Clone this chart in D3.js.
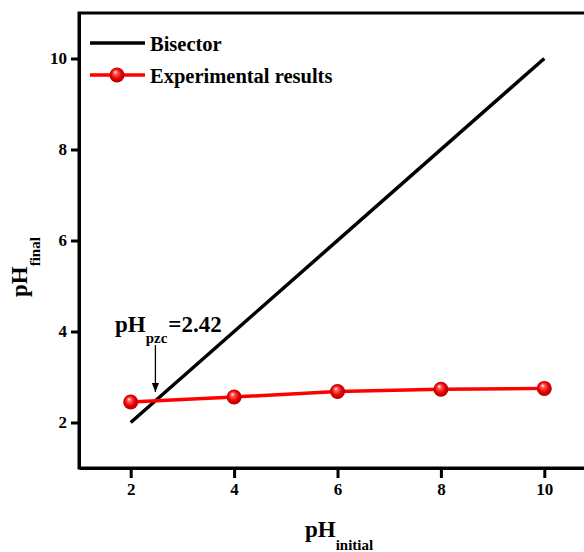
<!DOCTYPE html>
<html>
<head>
<meta charset="utf-8">
<script src="https://cdn.jsdelivr.net/npm/d3@7"></script>
<style>
  body { margin: 0; background: #fff; }
</style>
</head>
<body>
<div id="chart"></div>
<script>
// data
let phInitial = [2, 4, 6, 8, 10];
let phFinal = [2.45, 2.56, 2.68, 2.73, 2.75];
let bisectorX = [2, 10];
let bisectorY = [2, 10];
let xTicks = [2, 4, 6, 8, 10];
let yTicks = [2, 4, 6, 8, 10];
let pzcValue = 2.42;
let legendLabels = ["Bisector", "Experimental results"];

let serif = "'Liberation Serif', 'Times New Roman', serif";
let width = 584, height = 552;
let margin = {top: 13, left: 79, bottom: 84};

let svg = d3.select("#chart").append("svg")
    .attr("width", width)
    .attr("height", height)
    .style("font-family", serif)
    .style("font-weight", "bold");

// scales (domain 1..11 on both axes, right edge runs off the picture)
let x = d3.scaleLinear().domain([1, 11]).range([margin.left, margin.left + 517]);
let y = d3.scaleLinear().domain([1, 11]).range([height - margin.bottom, margin.top]);

// gradient for the shiny markers
let defs = svg.append("defs");
let grad = defs.append("radialGradient")
    .attr("id", "ball")
    .attr("cx", "50%").attr("cy", "50%").attr("r", "55%")
    .attr("fx", "38%").attr("fy", "30%");
grad.append("stop").attr("offset", "0%").attr("stop-color", "#ffffff");
grad.append("stop").attr("offset", "22%").attr("stop-color", "#ff6060");
grad.append("stop").attr("offset", "60%").attr("stop-color", "#ee0000");
grad.append("stop").attr("offset", "100%").attr("stop-color", "#a00000");

defs.append("marker")
    .attr("id", "arrow")
    .attr("viewBox", "0 0 10 10")
    .attr("refX", 10).attr("refY", 5)
    .attr("markerWidth", 7).attr("markerHeight", 7)
    .attr("orient", "auto")
    .append("path")
    .attr("d", "M0,1 L10,5 L0,9 Z")
    .attr("fill", "#000");

// frame
svg.append("rect")
    .attr("x", x(1)).attr("y", y(11))
    .attr("width", x(11) - x(1))
    .attr("height", y(1) - y(11))
    .attr("fill", "none")
    .attr("stroke", "#000")
    .attr("stroke-width", 3);

// axes
let xAxis = svg.append("g")
    .attr("transform", "translate(0," + y(1) + ")")
    .call(d3.axisBottom(x).tickValues(xTicks).tickSize(10).tickSizeOuter(0).tickPadding(5));

let yAxis = svg.append("g")
    .attr("transform", "translate(" + x(1) + ",0)")
    .call(d3.axisLeft(y).tickValues(yTicks).tickSize(8).tickSizeOuter(0).tickPadding(4));

[xAxis, yAxis].forEach(ax => {
    ax.attr("font-family", null).attr("font-size", null);
    ax.select(".domain").attr("stroke-width", 3);
    ax.selectAll(".tick line").attr("stroke-width", 3);
    ax.selectAll(".tick text")
        .style("font-family", serif)
        .style("font-weight", "bold")
        .style("font-size", "17px")
        .attr("fill", "#000");
});

// bisector line
let line = d3.line().x(d => x(d[0])).y(d => y(d[1]));

svg.append("path")
    .datum(d3.zip(bisectorX, bisectorY))
    .attr("d", line)
    .attr("fill", "none")
    .attr("stroke", "#000")
    .attr("stroke-width", 3.5);

// experimental results
let expData = d3.zip(phInitial, phFinal);

svg.append("path")
    .datum(expData)
    .attr("d", line)
    .attr("fill", "none")
    .attr("stroke", "#ff0000")
    .attr("stroke-width", 3.5);

svg.selectAll("circle.pt")
    .data(expData)
    .enter()
    .append("circle")
    .attr("class", "pt")
    .attr("cx", d => x(d[0]))
    .attr("cy", d => y(d[1]))
    .attr("r", 7.5)
    .attr("fill", "url(#ball)");

// pH pzc annotation
let ann = svg.append("text")
    .attr("x", 115).attr("y", 332)
    .style("font-size", "23px");
ann.append("tspan").text("pH");
ann.append("tspan").attr("dy", 11).style("font-size", "15px").text("pzc");
ann.append("tspan").attr("dy", -11).attr("dx", 1).text("=2.42");

svg.append("line")
    .attr("x1", x(pzcValue) + 3).attr("x2", x(pzcValue) + 3)
    .attr("y1", 345).attr("y2", 392)
    .attr("stroke", "#000")
    .attr("stroke-width", 1.3)
    .attr("marker-end", "url(#arrow)");

// legend
let legend = svg.append("g");
legend.append("line")
    .attr("x1", 90).attr("x2", 145).attr("y1", 43).attr("y2", 43)
    .attr("stroke", "#000").attr("stroke-width", 3.5);
legend.append("text")
    .attr("x", 150).attr("y", 51)
    .style("font-size", "20.5px")
    .text(legendLabels[0]);

legend.append("line")
    .attr("x1", 90).attr("x2", 145).attr("y1", 75).attr("y2", 75)
    .attr("stroke", "#ff0000").attr("stroke-width", 3.5);
legend.append("circle")
    .attr("cx", 117).attr("cy", 75).attr("r", 7.5)
    .attr("fill", "url(#ball)");
legend.append("text")
    .attr("x", 150).attr("y", 83)
    .style("font-size", "20.5px")
    .text(legendLabels[1]);

// axis titles
let xTitle = svg.append("text")
    .attr("x", 305).attr("y", 537)
    .style("font-size", "23px");
xTitle.append("tspan").text("pH");
xTitle.append("tspan").attr("dy", 13).style("font-size", "15px").text("initial");

let yTitle = svg.append("text")
    .attr("transform", "translate(27,297) rotate(-90)")
    .style("font-size", "23px");
yTitle.append("tspan").text("pH");
yTitle.append("tspan").attr("dy", 13).style("font-size", "15px").text("final");
</script>
</body>
</html>
